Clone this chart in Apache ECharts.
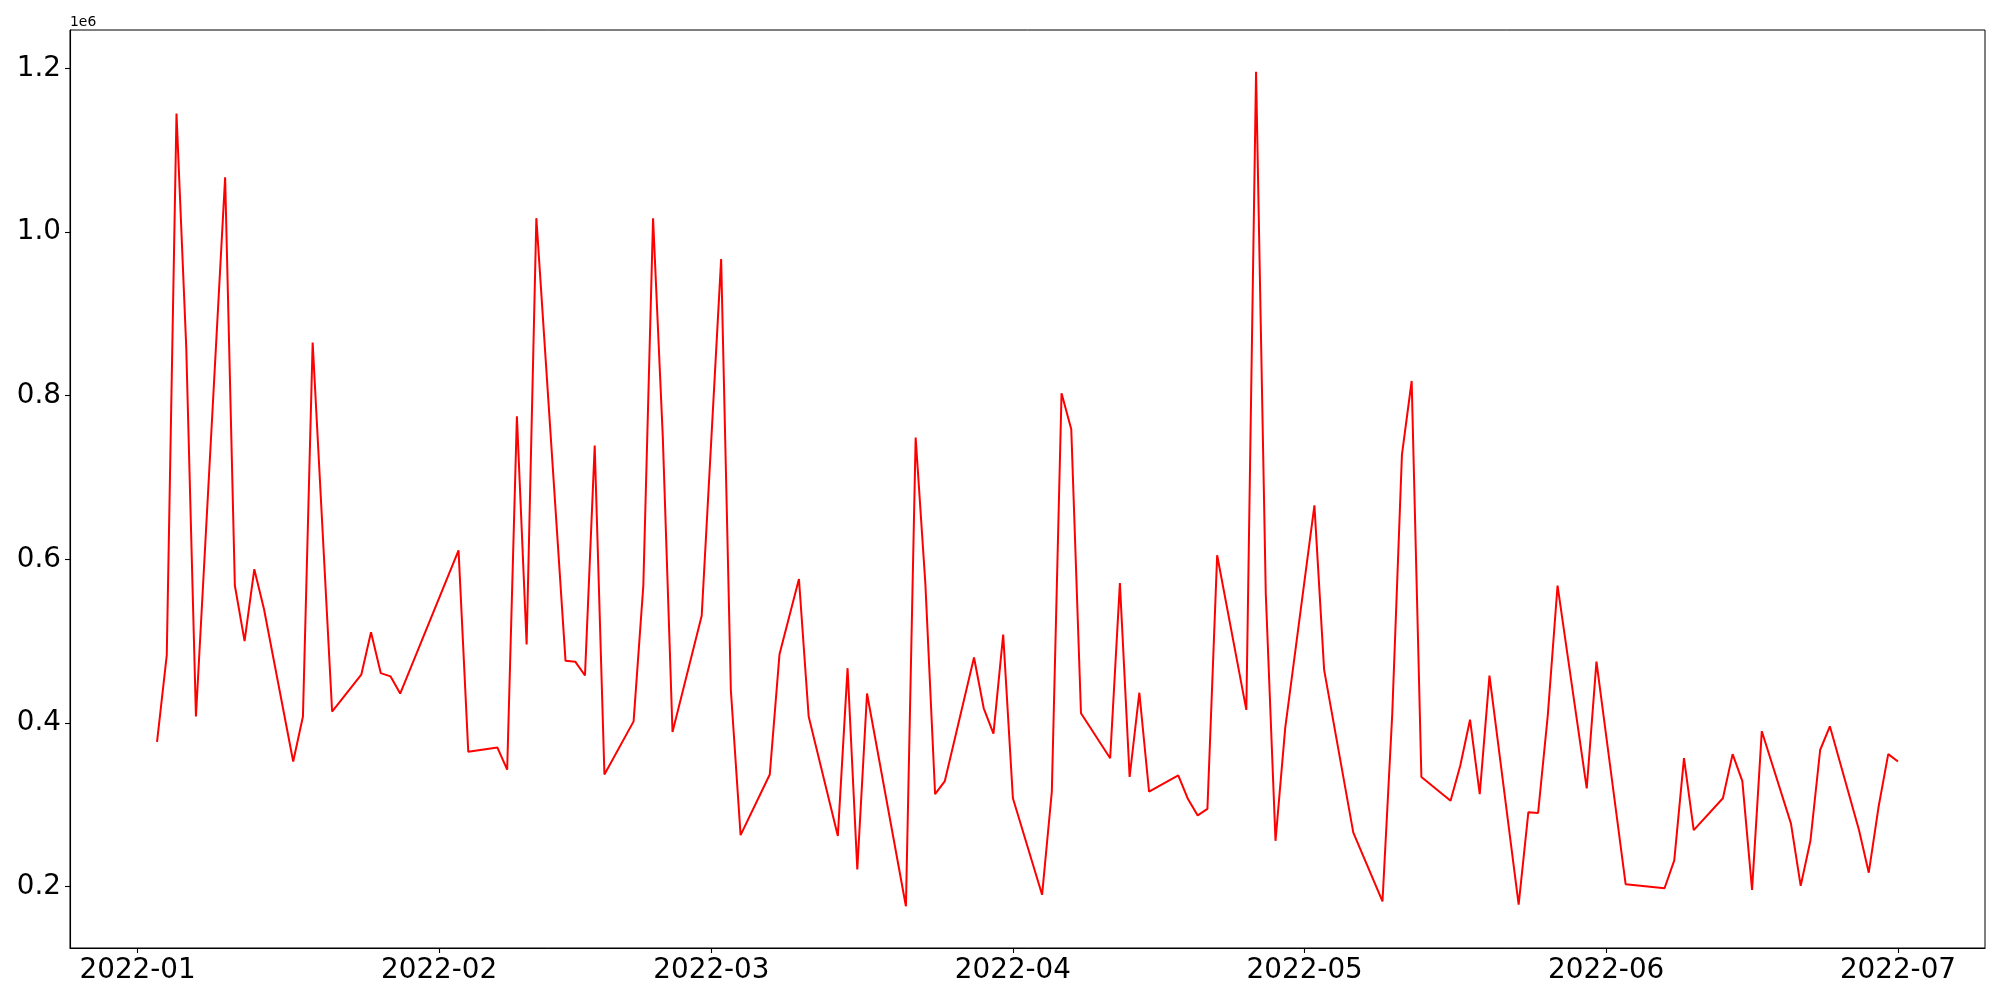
<!DOCTYPE html>
<html>
<head>
<meta charset="utf-8">
<script src="https://cdn.jsdelivr.net/npm/echarts@6/dist/echarts.min.js"></script>
<style>
html,body{margin:0;padding:0;background:#fff;}
#chart{width:2000px;height:1000px;}
</style>
</head>
<body>
<div id="chart"></div>
<script>
// ---- data ----
const dates = [
 '2022-01-03','2022-01-04','2022-01-05','2022-01-06','2022-01-07',
 '2022-01-10','2022-01-11','2022-01-12','2022-01-13','2022-01-14',
 '2022-01-17','2022-01-18','2022-01-19','2022-01-21',
 '2022-01-24','2022-01-25','2022-01-26','2022-01-27','2022-01-28',
 '2022-02-03','2022-02-04',
 '2022-02-07','2022-02-08','2022-02-09','2022-02-10','2022-02-11',
 '2022-02-14','2022-02-15','2022-02-16','2022-02-17','2022-02-18',
 '2022-02-21','2022-02-22','2022-02-23','2022-02-24','2022-02-25',
 '2022-02-28','2022-03-02','2022-03-03','2022-03-04',
 '2022-03-07','2022-03-08','2022-03-10','2022-03-11',
 '2022-03-14','2022-03-15','2022-03-16','2022-03-17',
 '2022-03-21','2022-03-22','2022-03-23','2022-03-24','2022-03-25',
 '2022-03-28','2022-03-29','2022-03-30','2022-03-31','2022-04-01',
 '2022-04-04','2022-04-05','2022-04-06','2022-04-07','2022-04-08',
 '2022-04-11','2022-04-12','2022-04-13','2022-04-14','2022-04-15',
 '2022-04-18','2022-04-19','2022-04-20','2022-04-21','2022-04-22',
 '2022-04-25','2022-04-26','2022-04-27','2022-04-28','2022-04-29',
 '2022-05-02','2022-05-03','2022-05-06',
 '2022-05-09','2022-05-10','2022-05-11','2022-05-12','2022-05-13',
 '2022-05-16','2022-05-17','2022-05-18','2022-05-19','2022-05-20',
 '2022-05-23','2022-05-24','2022-05-25','2022-05-26','2022-05-27',
 '2022-05-30','2022-05-31','2022-06-03',
 '2022-06-07','2022-06-08','2022-06-09','2022-06-10',
 '2022-06-13','2022-06-14','2022-06-15','2022-06-16','2022-06-17',
 '2022-06-20','2022-06-21','2022-06-22','2022-06-23','2022-06-24',
 '2022-06-27','2022-06-28','2022-06-29','2022-06-30','2022-07-01'
];
const values = [
 377000,483000,1145000,860000,408000,
 1067000,568000,500000,588000,539000,
 353000,408000,865000,414000,
 459000,511000,461000,457000,436000,
 611000,365000,
 370000,343000,775000,496000,1017000,
 476000,475000,458000,739000,337000,
 402000,568000,1017000,750000,389000,
 531000,967000,440000,263000,
 337000,484000,576000,408000,
 262000,467000,221000,436000,
 176000,749000,570000,313000,329000,
 480000,418000,387000,508000,308000,
 190000,316000,803000,759000,412000,
 357000,571000,334000,437000,316000,
 336000,307000,287000,295000,605000,
 416000,1196000,558000,256000,394000,
 666000,465000,266000,
 182000,410000,728000,818000,334000,
 305000,348000,404000,313000,458000,
 178000,291000,290000,410000,568000,
 320000,475000,203000,
 198000,232000,357000,269000,
 308000,362000,329000,196000,390000,
 277000,201000,256000,367000,396000,
 269000,217000,297000,362000,353000
];
const xTickLabels = ['2022-01','2022-02','2022-03','2022-04','2022-05','2022-06','2022-07'];
const yTickValues = [200000,400000,600000,800000,1000000,1200000];
const yOffsetText = '1e6';

// ---- helpers ----
function toTs(s){
  const p = s.split('-').map(Number);
  return Date.UTC(p[0], p[1]-1, p[2] || 1);
}
const seriesData = dates.map((d,i)=>[toTs(d), values[i]]);
const xTicks = xTickLabels.map(toTs);
const tMin = seriesData[0][0], tMax = seriesData[seriesData.length-1][0];
const tPad = (tMax - tMin) * 0.05;
const vMin = Math.min(...values), vMax = Math.max(...values);
const vPad = (vMax - vMin) * 0.05;

const FONT = 'DejaVu Sans';
const chart = echarts.init(document.getElementById('chart'), null, {renderer:'canvas'});
chart.setOption({
  animation:false,
  backgroundColor:'#ffffff',
  grid:{left:70, right:15, top:30, bottom:52, show:true, borderColor:'#000', borderWidth:1, backgroundColor:'transparent'},
  xAxis:{
    type:'value',
    min:tMin - tPad, max:tMax + tPad,
    scale:true,
    splitLine:{show:false},
    axisLine:{show:true, onZero:false, lineStyle:{color:'#000', width:1.1}},
    axisTick:{show:true, inside:false, length:5, lineStyle:{color:'#000', width:1.1}, customValues:xTicks},
    axisLabel:{
      customValues:xTicks, margin:9, color:'#000', fontFamily:FONT, fontSize:27.8,
      formatter:function(v){ const i = xTicks.indexOf(v); return i>=0 ? xTickLabels[i] : ''; },
      showMinLabel:true, showMaxLabel:true
    }
  },
  yAxis:{
    type:'value',
    min:vMin - vPad, max:vMax + vPad,
    scale:true,
    splitLine:{show:false},
    axisLine:{show:true, onZero:false, lineStyle:{color:'#000', width:1.1}},
    axisTick:{show:true, inside:false, length:5, lineStyle:{color:'#000', width:1.1}, customValues:yTickValues},
    axisLabel:{
      customValues:yTickValues, margin:9, color:'#000', fontFamily:FONT, fontSize:27.8,
      formatter:function(v){ return (v/1e6).toFixed(1); }
    }
  },
  graphic:[{
    type:'text', left:70, top:15,
    style:{text:yOffsetText, fill:'#000', font:'13.9px "DejaVu Sans"'}
  }],
  series:[{
    type:'line',
    data:seriesData,
    showSymbol:false,
    symbol:'none',
    lineStyle:{color:'#ff0000', width:2},
    itemStyle:{color:'#ff0000'},
    silent:true
  }]
});
</script>
</body>
</html>
